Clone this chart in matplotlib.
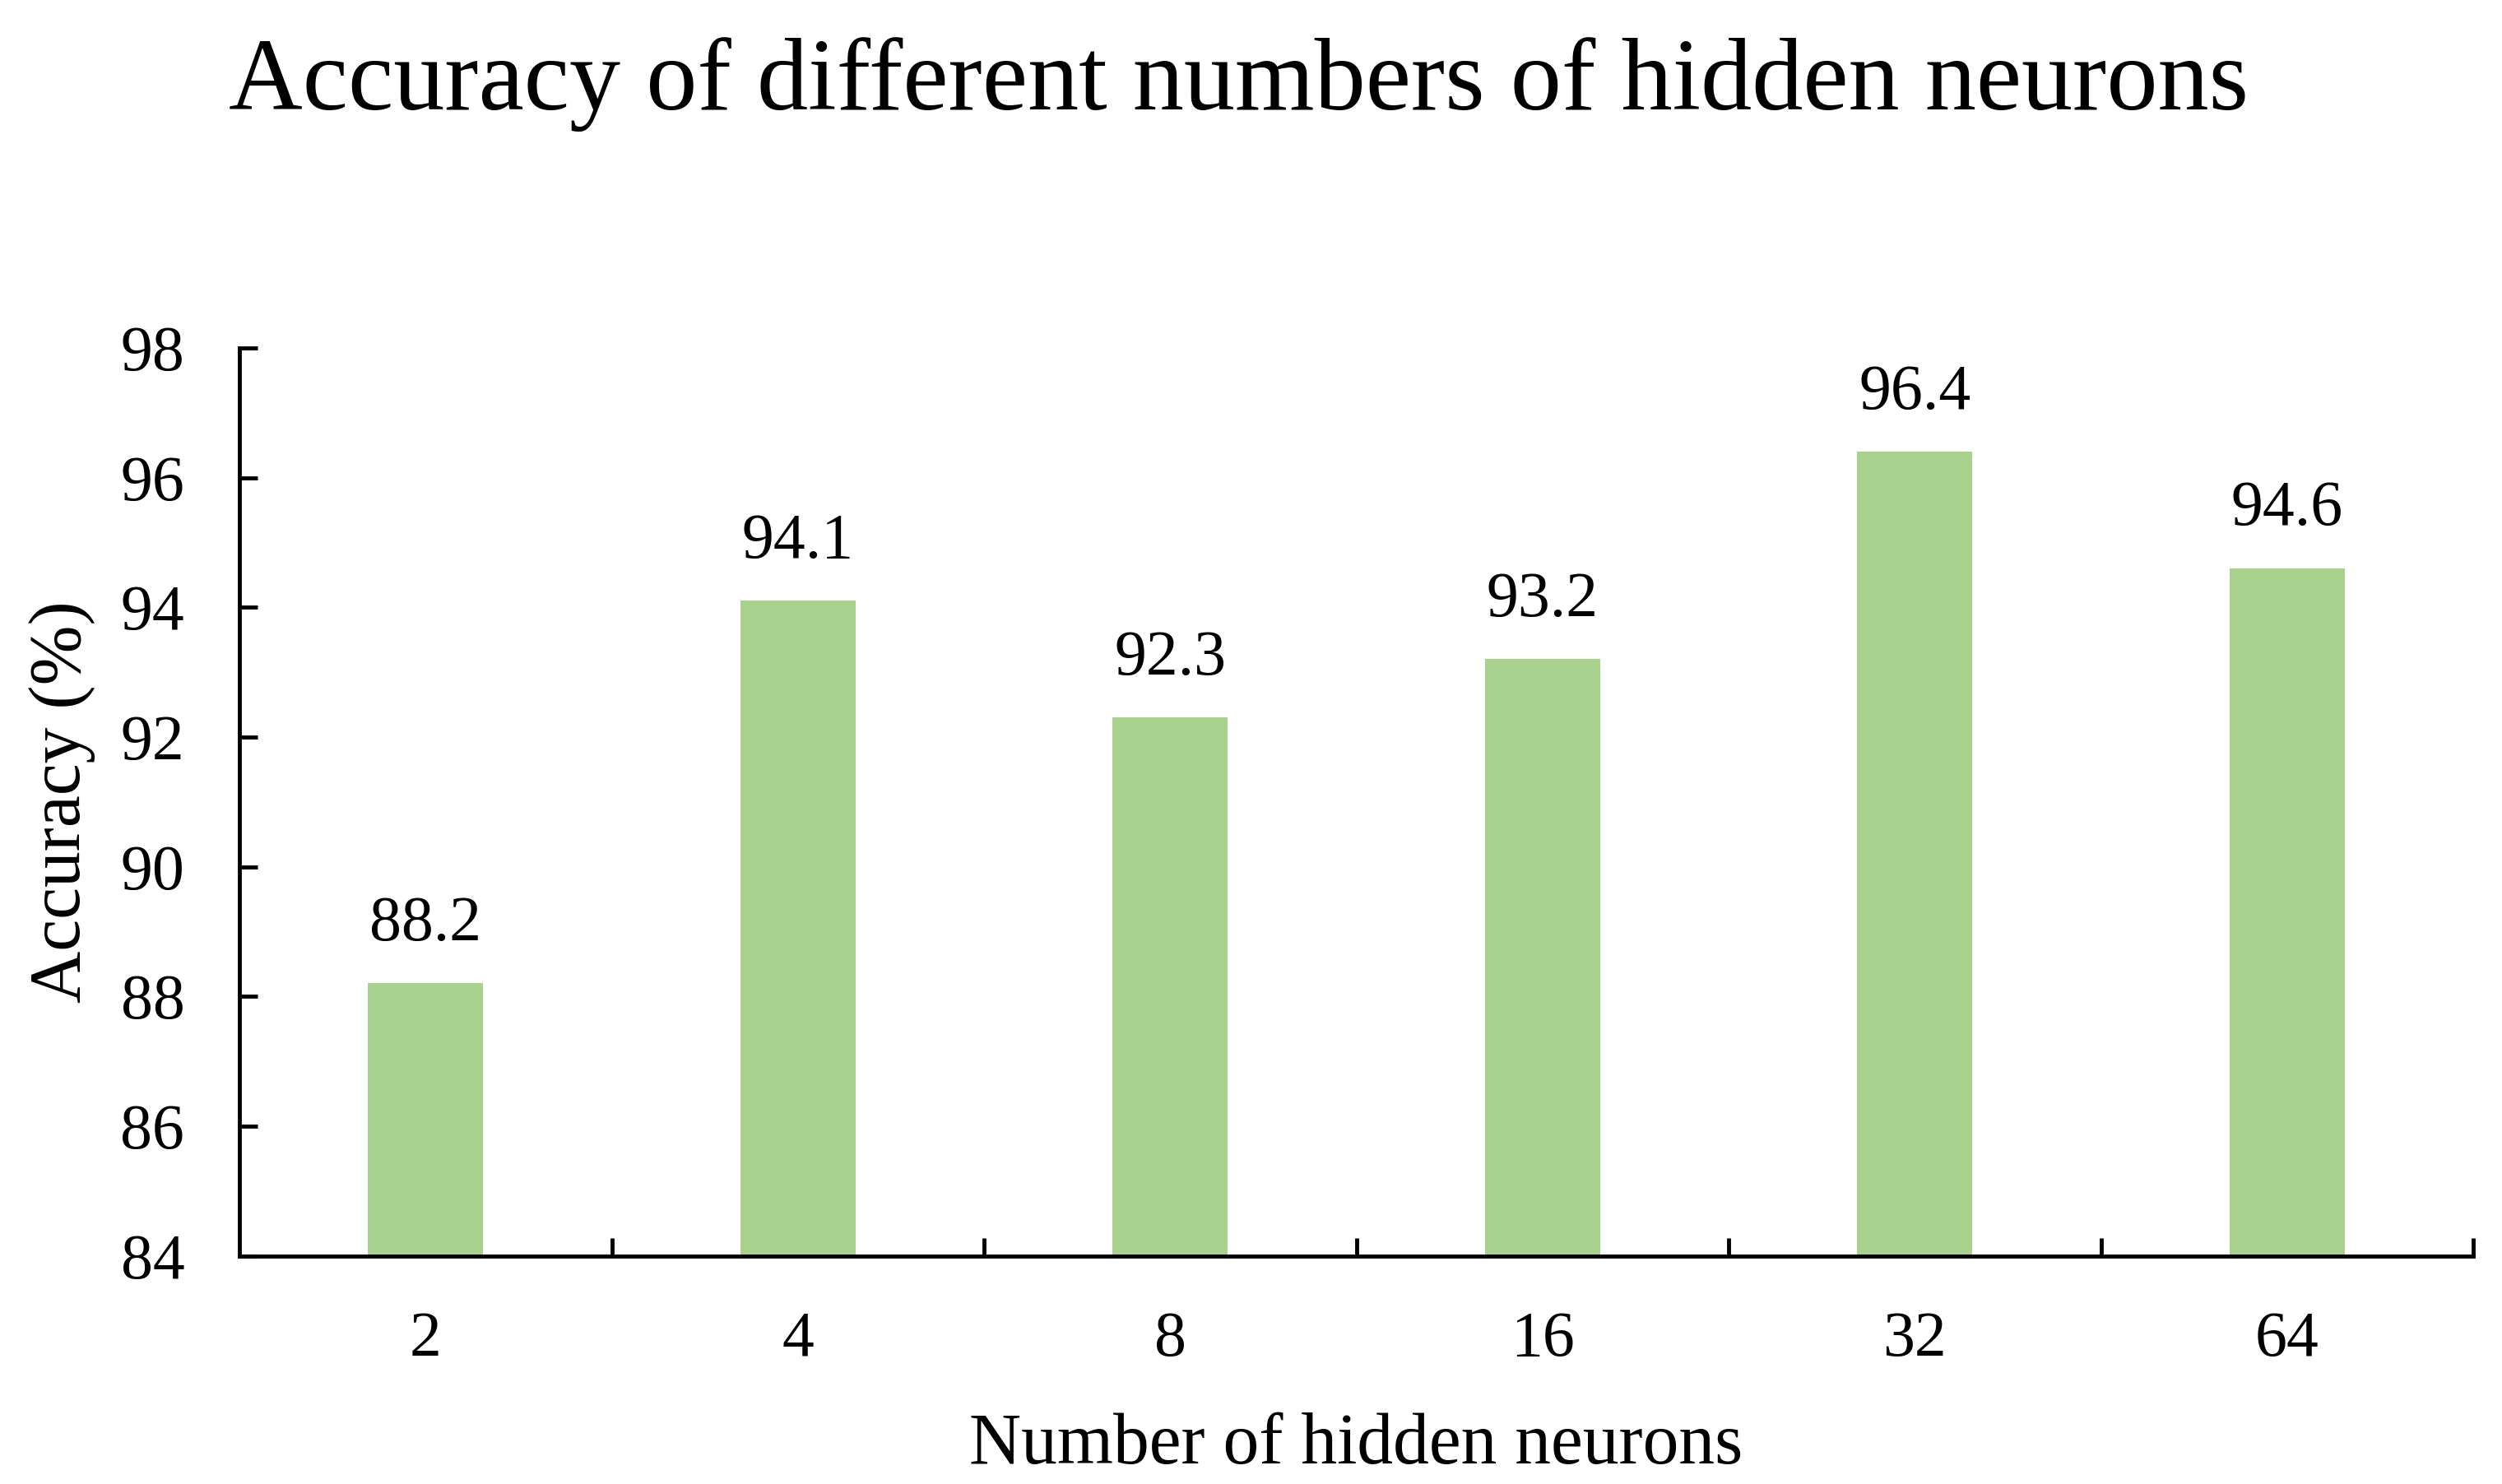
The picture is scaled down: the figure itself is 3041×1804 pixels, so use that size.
import matplotlib.pyplot as plt
import numpy as np

plt.rcParams['font.family'] = ['Liberation Serif', 'DejaVu Serif']

neurons = ['2', '4', '8', '16', '32', '64']
accuracy = [88.2, 94.1, 92.3, 93.2, 96.4, 94.6]
yticks = [84, 86, 88, 90, 92, 94, 96, 98]

fig = plt.figure(figsize=(30.41, 18.04), dpi=100)
ax = fig.add_axes([0.0957, 0.1538, 0.8928, 0.6118])

x = np.arange(len(neurons))
ax.bar(x, accuracy, width=0.31, color='#A9D18E', zorder=2)

for xi, v in zip(x, accuracy):
    ax.text(xi, v + 0.45, f'{v:.1f}', ha='center', va='bottom', fontsize=56)

ax.set_xlim(-0.5, len(neurons) - 0.5)
ax.set_ylim(84, 98)
ax.set_yticks(yticks)
ax.tick_params(axis='y', direction='in', length=16, width=3.5, labelsize=56, pad=48)

# category labels at centres, tick marks at boundaries
ax.set_xticks(x)
ax.set_xticklabels(neurons)
ax.tick_params(axis='x', which='major', length=0, labelsize=56, pad=48)
ax.set_xticks(np.arange(len(neurons)) + 0.5, minor=True)
ax.tick_params(axis='x', which='minor', direction='in', length=16, width=3.5)

for s in ['top', 'right']:
    ax.spines[s].set_visible(False)
for s in ['left', 'bottom']:
    ax.spines[s].set_linewidth(3.5)

ax.set_xlabel('Number of hidden neurons', fontsize=63, labelpad=38)
ax.set_ylabel('Accuracy (%)', fontsize=63, labelpad=22)
fig.suptitle('Accuracy of different numbers of hidden neurons', fontsize=89.5, x=0.495, y=0.975)

fig.savefig('out.png', dpi=100)
